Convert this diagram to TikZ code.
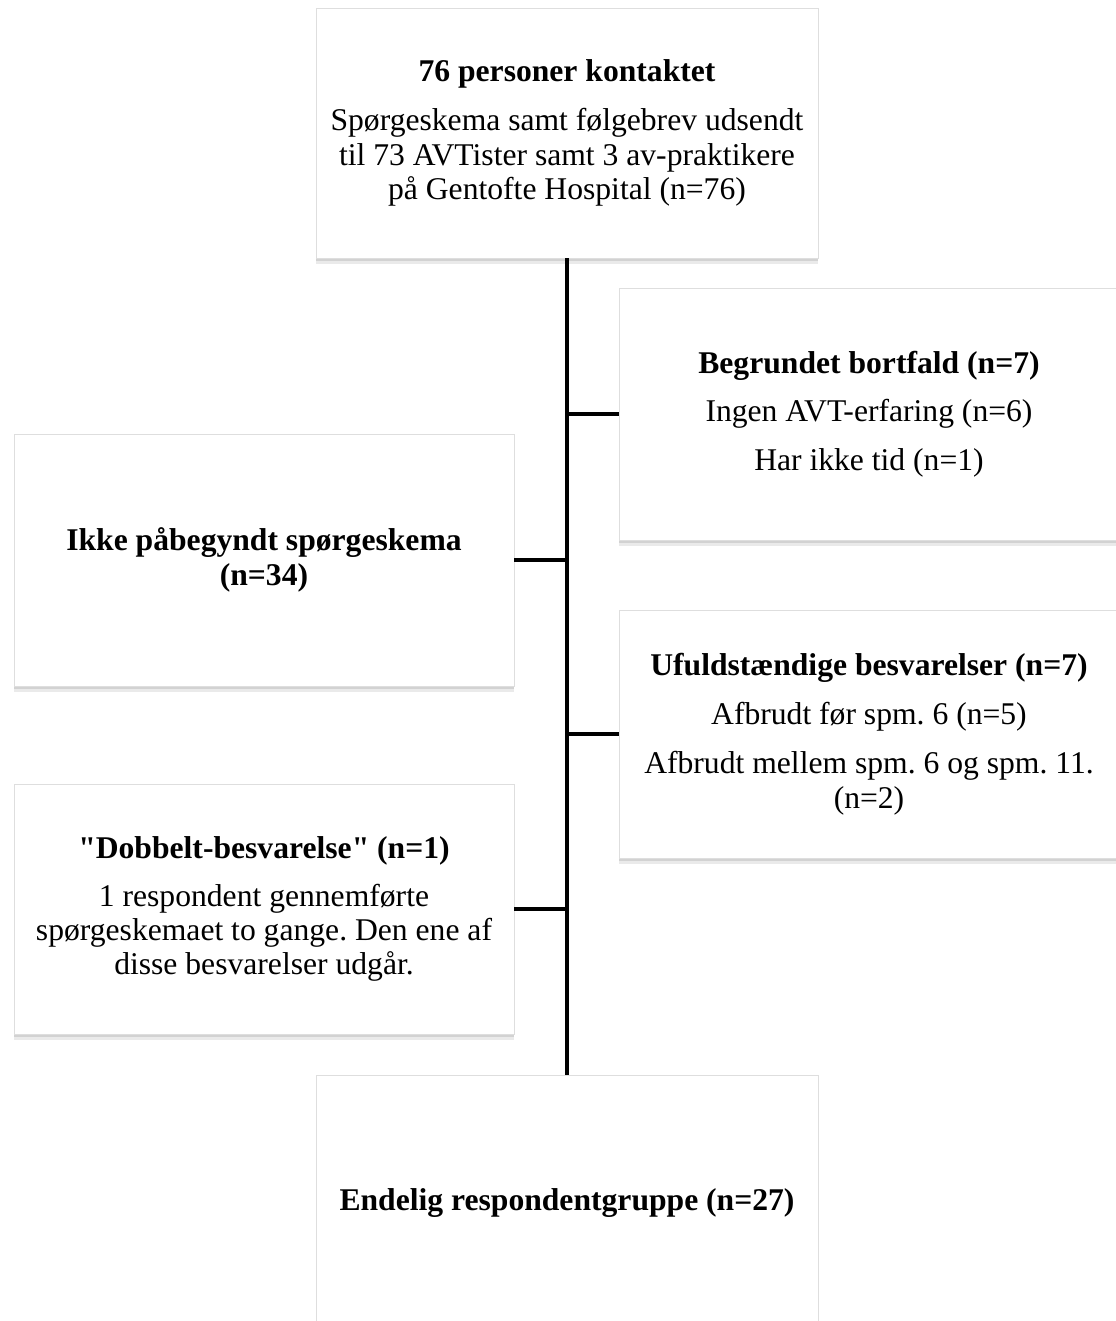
\documentclass[tikz,border=0pt]{standalone}
\usepackage{fontspec}
\setmainfont{Liberation Serif}
\usetikzlibrary{shadows}
\definecolor{edge}{HTML}{DEDEDE}
\definecolor{shade}{HTML}{8A8A8A}
\frenchspacing

\begin{document}
\begin{tikzpicture}[x=0.02cm,y=-0.02cm,
  box/.style={draw=edge,fill=white,line width=0.5pt,align=center,
    font=\fontsize{18}{19.5}\selectfont,
    drop shadow={fill=shade,opacity=0.18,shadow xshift=0pt,shadow yshift=-3.5pt},
    drop shadow={fill=shade,opacity=0.25,shadow xshift=0pt,shadow yshift=-1.5pt}},
  spine/.style={line width=2.8pt,black}]
  \useasboundingbox (0,0) rectangle (1115,1321);

  % main column
  \node[box,minimum width=10.04cm,minimum height=5cm] (contact) at (567,133)
    {\textbf{76 personer kontaktet}\\[8.5pt]
     Spørgeskema samt følgebrev udsendt\\
     til 73 AVTister samt 3 av-praktikere\\
     på Gentofte Hospital (n=76)};
  \node[box,minimum width=10.04cm,minimum height=5.12cm] (final) at (567,1203)
    {\textbf{Endelig respondentgruppe (n=27)}};

  % drop-outs, right side
  \node[box,minimum width=10cm,minimum height=5.04cm] (reason) at (869,414)
    {\textbf{Begrundet bortfald (n=7)}\\[8pt]
     Ingen AVT-erfaring (n=6)\\[8pt]
     Har ikke tid (n=1)};
  \node[box,minimum width=10cm,minimum height=4.96cm] (partial) at (869,734)
    {\textbf{Ufuldstændige besvarelser (n=7)}\\[8.5pt]
     Afbrudt før spm. 6 (n=5)\\[8.5pt]
     Afbrudt mellem spm. 6 og spm. 11.\\
     (n=2)};

  % drop-outs, left side
  \node[box,minimum width=10cm,minimum height=5.04cm] (unstarted) at (264,560)
    {\textbf{Ikke påbegyndt spørgeskema}\\
     \textbf{(n=34)}};
  \node[box,minimum width=10cm,minimum height=5cm] (double) at (264,909)
    {\textbf{\textquotedbl Dobbelt-besvarelse\textquotedbl\ (n=1)}\\[7.5pt]
     1 respondent gennemførte\\
     spørgeskemaet to gange. Den ene af\\
     disse besvarelser udgår.};

  % connectors
  \draw[spine] (contact.south) -- (final.north);
  \draw[spine] (reason.west) -- (reason.west -| contact.south);
  \draw[spine] (partial.west) -- (partial.west -| contact.south);
  \draw[spine] (unstarted.east) -- (unstarted.east -| contact.south);
  \draw[spine] (double.east) -- (double.east -| contact.south);
\end{tikzpicture}
\end{document}
